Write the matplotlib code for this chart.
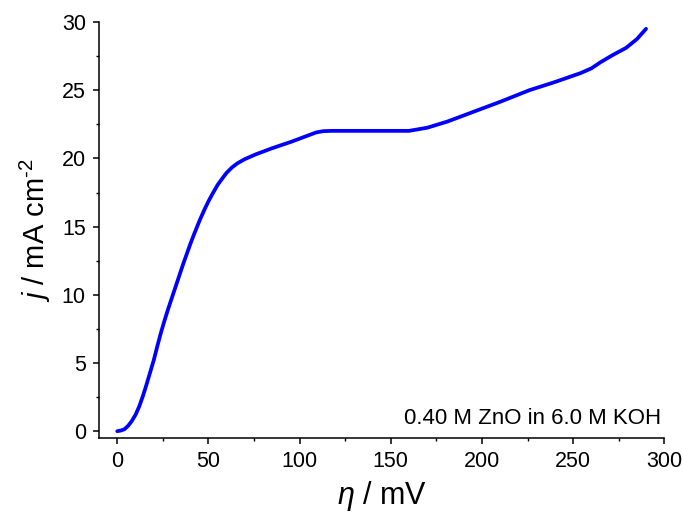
import matplotlib
matplotlib.use("Agg")
from matplotlib import pyplot as plt
from matplotlib.ticker import MultipleLocator

# overpotential (mV) and current density (mA cm^-2)
eta = [0, 2, 4, 6, 8, 10, 12, 14, 16, 18, 20, 22, 24, 26, 28, 30, 32, 34,
       36, 38, 40, 42, 45, 48, 50, 52, 55, 58, 60, 63, 66, 70, 76, 85, 95,
       103, 109, 113, 118, 130, 145, 160, 170, 181, 190, 199, 210, 226, 240,
       254, 260, 265, 272, 279, 285, 290]
j = [0.0, 0.05, 0.15, 0.4, 0.75, 1.2, 1.8, 2.55, 3.4, 4.3, 5.2, 6.25, 7.25,
     8.15, 9.0, 9.8, 10.6, 11.4, 12.2, 12.95, 13.7, 14.4, 15.4, 16.3, 16.85,
     17.35, 18.05, 18.6, 18.95, 19.35, 19.65, 19.95, 20.3, 20.75, 21.2,
     21.6, 21.9, 22.0, 22.02, 22.02, 22.02, 22.02, 22.25, 22.7, 23.15, 23.6,
     24.15, 25.0, 25.6, 26.25, 26.6, 27.05, 27.6, 28.1, 28.75, 29.5]

note = "0.40 M ZnO in 6.0 M KOH"

plt.rcParams['font.family'] = ['Liberation Sans', 'DejaVu Sans']
plt.rcParams['mathtext.fontset'] = 'custom'
plt.rcParams['mathtext.rm'] = 'Liberation Sans'
plt.rcParams['mathtext.it'] = 'Liberation Sans:italic'

fig = plt.figure(figsize=(6.83, 5.17), dpi=100)
ax = fig.add_axes([0.145, 0.1528, 0.8276, 0.8046])
ax.plot(eta, j, color='#0000ff', lw=2.7, solid_capstyle='round',
        solid_joinstyle='round')

ax.set_xlim(-10, 300)
ax.set_ylim(-0.5, 30)
ax.xaxis.set_major_locator(MultipleLocator(50))
ax.xaxis.set_minor_locator(MultipleLocator(25))
ax.yaxis.set_major_locator(MultipleLocator(5))
ax.yaxis.set_minor_locator(MultipleLocator(2.5))
ax.spines['top'].set_visible(False)
ax.spines['right'].set_visible(False)
for s in ('left', 'bottom'):
    ax.spines[s].set_linewidth(1.1)
ax.tick_params(which='major', direction='out', length=4.5, width=1.1,
               labelsize=15.5, pad=5)
ax.tick_params(which='minor', direction='out', length=2.5, width=1.0)

ax.set_xlabel(r'$\eta$ / mV', fontsize=22, labelpad=5)
ax.set_ylabel(r'$j$ / mA cm$^{\text{-2}}$', fontsize=21, labelpad=6)
ax.text(298, 0.55, note, ha='right', va='baseline', fontsize=16)

fig.savefig('out.png', dpi=100)
